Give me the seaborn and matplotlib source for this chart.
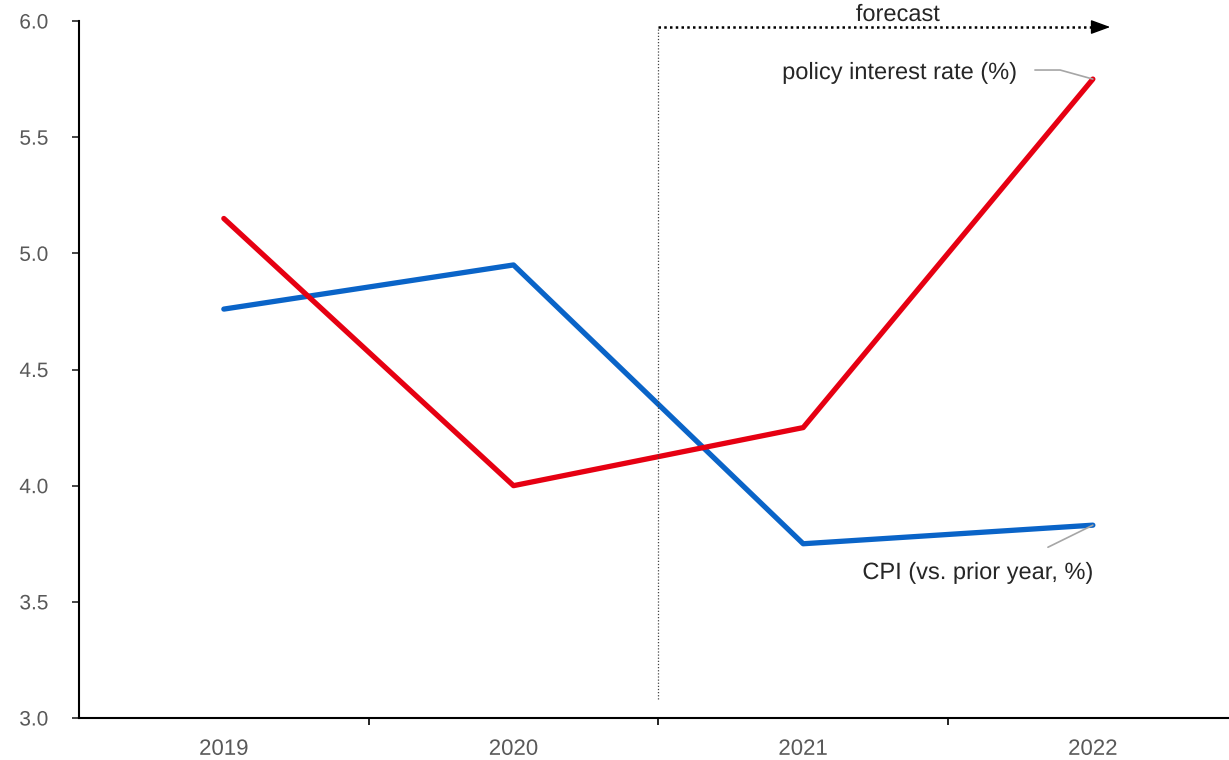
#!/usr/bin/env python3
import matplotlib as mpl
mpl.use('Agg')
import matplotlib.pyplot as plt
import matplotlib.patheffects as pe
import matplotlib.ticker as ticker
import pandas as pd
import seaborn as sns

# data
years = ['2019', '2020', '2021', '2022']
cpi = [4.76, 4.95, 3.75, 3.83]
policy_rate = [5.15, 4.00, 4.25, 5.75]
y_ticks = [3.0, 3.5, 4.0, 4.5, 5.0, 5.5, 6.0]

sns.set_style("ticks")
plt.rcParams['font.family'] = ['Liberation Sans', 'DejaVu Sans']

df = pd.DataFrame({'year': years * 2,
                   'value': cpi + policy_rate,
                   'series': ['cpi'] * len(years) + ['policy'] * len(years)})

fig = plt.figure(figsize=(12.29, 7.6), dpi=100)
ax = fig.add_axes([79 / 1229, 42 / 760, 1150 / 1229, 697 / 760])

sns.lineplot(data=df, x='year', y='value', hue='series', sort=False,
             palette={'cpi': '#0a64c8', 'policy': '#e60012'},
             lw=3.8, legend=False, ax=ax, solid_capstyle='round')

ax.set_xlim(-0.5, 3.47)
ax.set_ylim(3.0, 6.0)
ax.set_yticks(y_ticks)
ax.yaxis.set_major_formatter(ticker.FormatStrFormatter('%.1f'))
ax.set_xticks(range(len(years)))
ax.set_xticklabels(years)
ax.xaxis.set_minor_locator(ticker.FixedLocator([0.5, 1.5, 2.5]))
ax.tick_params(axis='x', which='major', length=0, pad=15, labelsize=16, labelcolor='#595959')
ax.tick_params(axis='x', which='minor', length=5, width=1.2, color='black')
ax.tick_params(axis='y', length=5, width=1.2, pad=17, labelsize=15, labelcolor='#595959')
for lab in ax.get_xticklabels() + ax.get_yticklabels():
    lab.set_path_effects([pe.SimpleLineShadow(offset=(1, -1), shadow_color='#aaaaaa', alpha=0.6), pe.Normal()])
ax.set_xlabel('')
ax.set_ylabel('')
for s in ['top', 'right']:
    ax.spines[s].set_visible(False)
for s in ['left', 'bottom']:
    ax.spines[s].set_linewidth(1.5)
    ax.spines[s].set_color('black')

# forecast marker
ax.plot([1.5, 1.5], [3.08, 5.974], color='#444444', lw=0.9, ls=(0, (1, 1.5)), clip_on=False)
ax.plot([1.5, 3.01], [5.974, 5.974], color='black', lw=1.8, ls=(0, (1, 1.3)), clip_on=False)
ax.annotate('', xy=(3.06, 5.974), xytext=(3.0, 5.974),
            arrowprops=dict(arrowstyle='-|>,head_length=0.6,head_width=0.22', color='black',
                            lw=1.0, shrinkA=0, shrinkB=0, mutation_scale=20),
            annotation_clip=False)
txt_fx = [pe.SimpleLineShadow(offset=(1.5, -1.5), shadow_color='#888888', alpha=0.5), pe.Normal()]
ax.text(2.327, 6.026, 'forecast', ha='center', va='center', fontsize=17, path_effects=txt_fx, clip_on=False)

# series labels with leader lines
ax.plot([2.80, 2.887, 3.0], [5.789, 5.789, 5.75], color='#a6a6a6', lw=1.2)
ax.text(2.335, 5.776, 'policy interest rate (%)', ha='center', va='center', fontsize=17, path_effects=txt_fx)
ax.plot([2.845, 3.0], [3.735, 3.83], color='#a6a6a6', lw=1.2)
ax.text(2.604, 3.624, 'CPI (vs. prior year, %)', ha='center', va='center', fontsize=17, path_effects=txt_fx)

fig.savefig('out.png', dpi=100)
